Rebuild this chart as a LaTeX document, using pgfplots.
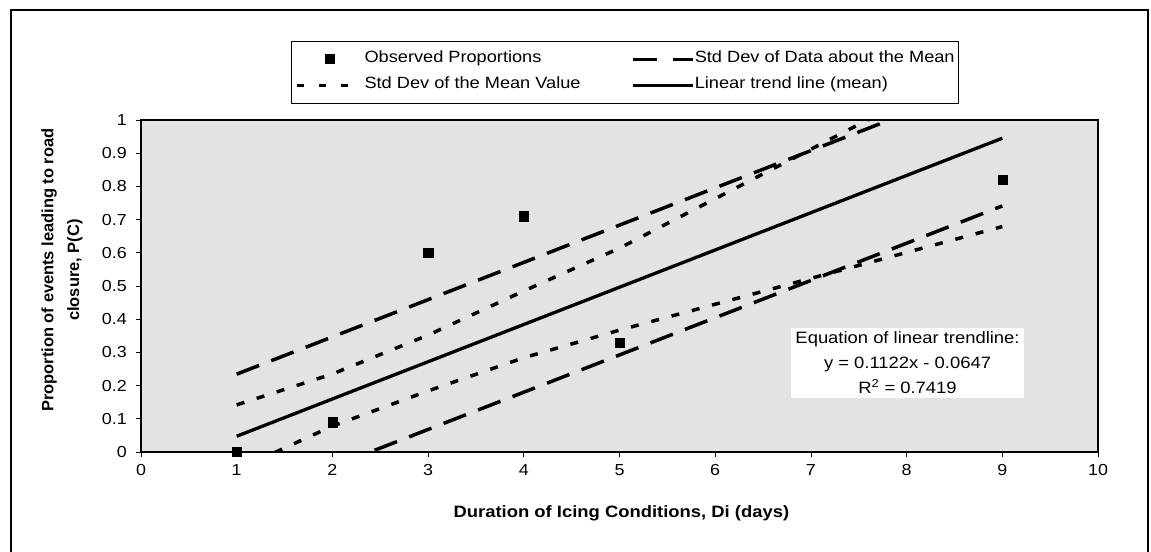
\documentclass[border=0pt]{standalone}
\usepackage{fontspec}
\setmainfont{Liberation Sans}[FakeStretch=1.12]
\newfontfamily\ylabfont{Liberation Sans}
\usepackage{pgfplots}
\usepackage{pgfplotstable}
\pgfplotsset{compat=1.18}

\pgfplotstableread{
x y
1 0
2 0.09
3 0.6
4 0.71
5 0.33
9 0.82
}\obs

\pgfplotstableread{
x y
1 0.142
2 0.235
3 0.352
4 0.485
5 0.614
9 1.21
}\semup

\pgfplotstableread{
x y
1 -0.054
2 0.078
3 0.184
4 0.284
5 0.367
9 0.679
}\semlow

\pgfplotstableread{
x y
1 0.2345
9 1.1321
}\sdup

\pgfplotstableread{
x y
1 -0.1565
9 0.7411
}\sdlow

\pgfplotstableread{
x y
1 0.0475
9 0.9451
}\trend

\tikzset{
  longdash/.style={black, line width=3.5bp, dash pattern=on 24bp off 13bp},
  shortdash/.style={black, line width=3.5bp, dash pattern=on 8bp off 13bp},
  trendline/.style={black, line width=3.3bp},
}

\begin{document}
\begin{tikzpicture}
\useasboundingbox (0,0) rectangle (1151bp,552bp);
\draw[line width=2.5bp] (11bp,0bp) -- (11bp,542bp) -- (1148bp,542bp) -- (1148bp,0bp);
\begin{axis}[
  at={(141bp,100bp)}, anchor=south west,
  scale only axis, width=957bp, height=332bp,
  xmin=0, xmax=10, ymin=0, ymax=1,
  xtick={0,1,2,3,4,5,6,7,8,9,10},
  ytick={0,0.1,0.2,0.3,0.4,0.5,0.6,0.7,0.8,0.9,1},
  xtick pos=lower, ytick pos=left,
  tick align=outside, major tick length=5bp,
  tick style={black, line width=0.8bp},
  axis line style={line width=1.8bp},
  axis background/.style={fill=black!11},
  clip mode=individual,
  /pgf/number format/assume math mode=true,
  ticklabel style={font=\fontsize{16}{19}\selectfont},
  xticklabel style={inner sep=0pt, yshift=-7bp},
  yticklabel style={inner sep=0pt, xshift=-9bp},
  xlabel={Duration of Icing Conditions, Di (days)},
  xlabel style={at={(axis description cs:0.502,-0.184)}, anchor=center,
    font=\bfseries\fontsize{16.5}{20}\selectfont},
  ylabel={Proportion of events leading to road\\closure, P(C)},
  ylabel style={at={(axis description cs:-0.0826,0.548)}, anchor=center, align=center,
    font=\ylabfont\bfseries\fontsize{16.5}{26}\selectfont},
  legend columns=2,
  legend cell align=left,
  legend style={at={(0.1567,1.238)}, anchor=north west, draw=black, line width=0.8bp,
    fill=white, inner xsep=4bp, inner ysep=9.5bp, row sep=9bp, column sep=0bp,
    font=\fontsize{16.3}{19}\selectfont,
    nodes={inner sep=0pt, text height=12bp, text depth=5bp},
    /tikz/column 1/.style={column sep=15bp},
    /tikz/column 2/.style={column sep=51bp},
    /tikz/column 3/.style={column sep=0bp}},
]
\addlegendimage{legend image code/.code={
  \path[draw=none] (0bp,0bp) -- (51bp,0bp);
  \fill[black] (28.5bp,-4.5bp) rectangle (37.5bp,4.5bp);}}
\addlegendentry{Observed Proportions}
\addlegendimage{legend image code/.code={
  \draw[black, line width=3.2bp, dash pattern=on 24bp off 16bp] (0bp,0bp) -- (60bp,0bp);}}
\addlegendentry{Std Dev of Data about the Mean}
\addlegendimage{legend image code/.code={
  \draw[black, line width=3.2bp, dash pattern=on 7bp off 15bp] (0bp,0bp) -- (51bp,0bp);}}
\addlegendentry{Std Dev of the Mean Value}
\addlegendimage{legend image code/.code={
  \draw[black, line width=3.2bp] (0bp,0bp) -- (60bp,0bp);}}
\addlegendentry{Linear trend line (mean)}

\addplot[longdash, forget plot] table[x=x,y=y]{\sdup};
\addplot[longdash, forget plot] table[x=x,y=y]{\sdlow};
\addplot[shortdash, forget plot] table[x=x,y=y]{\semup};
\addplot[shortdash, forget plot] table[x=x,y=y]{\semlow};
\addplot[trendline, forget plot] table[x=x,y=y]{\trend};
\addplot[only marks, mark=square*, mark size=4.6bp, black, forget plot] table[x=x,y=y]{\obs};

\node[fill=white, align=center, inner xsep=4bp, inner ysep=4bp,
  font=\fontsize{16.5}{25}\selectfont] at (axis cs:8.01,0.268)
  {Equation of linear trendline:\\y = 0.1122x - 0.0647\\R\textsuperscript{2} = 0.7419};
\end{axis}
\end{tikzpicture}
\end{document}
